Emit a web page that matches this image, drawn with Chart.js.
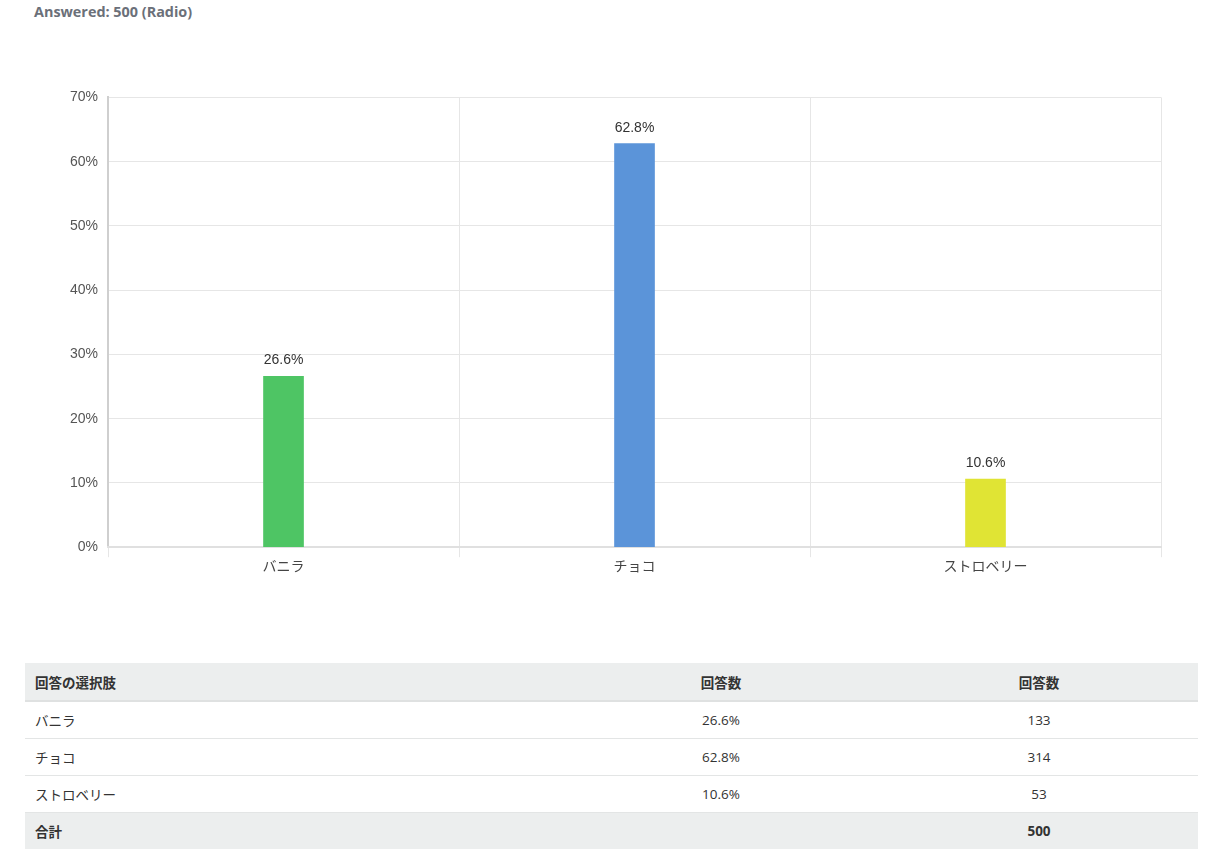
<!DOCTYPE html>
<html><head><meta charset="utf-8">
<script src="https://cdn.jsdelivr.net/npm/chart.js@4.4.1/dist/chart.umd.min.js"></script>
<style>
body{margin:0;background:#fff;font-family:"Noto Sans CJK JP","Noto Sans",sans-serif;}
#hdr{position:absolute;left:34px;top:2px;font:bold 14.4px "Open Sans","Noto Sans CJK JP",sans-serif;color:#6b7079;}
#wrap{position:absolute;left:40px;top:79px;width:1140px;height:495px;}
table{position:absolute;left:25px;top:663px;width:1173px;border-collapse:collapse;font-size:13.5px;color:#333;}
td,th{height:37px;padding:0 10px;border-bottom:1px solid #e3e5e5;box-sizing:border-box;}
th{background:#eceeee;font-weight:bold;border-bottom:2px solid #dfe1e1;height:38px;}
tr.tot td{background:#eceeee;font-weight:bold;border-bottom:none;height:37px;}
.c2{text-align:center;width:318px;}
.c3{text-align:center;width:318px;}
td.c1,th.c1{text-align:left;}
.num{font-family:"Open Sans","Noto Sans",sans-serif;}
</style></head><body>
<div id="hdr">Answered: 500 (Radio)</div>
<div id="wrap"><canvas id="c"></canvas></div>
<table id="t"></table>
<script>
const categories = ["バニラ", "チョコ", "ストロベリー"];
const percentValues = [26.6, 62.8, 10.6];
const counts = [133, 314, 53];
const total = 500;
const barColors = ["rgba(78,197,100,1)", "rgba(91,148,217,1)", "rgba(224,228,52,1)"];
const yTicks = [0,10,20,30,40,50,60,70];

const labelPlugin = {
  id: 'vlabels',
  afterDatasetsDraw(chart){
    const ctx = chart.ctx;
    const meta = chart.getDatasetMeta(0);
    ctx.save();
    ctx.font = '14px "Liberation Sans", Arial, sans-serif';
    ctx.fillStyle = '#333';
    ctx.textAlign = 'center';
    ctx.textBaseline = 'bottom';
    meta.data.forEach((bar,i)=>{
      ctx.fillText(percentValues[i].toFixed(1)+'%', bar.x, bar.y-9);
    });
    ctx.restore();
  }
};

new Chart(document.getElementById('c'), {
  type: 'bar',
  data: { labels: categories, datasets: [{ data: percentValues, backgroundColor: barColors, barThickness: 40 }] },
  options: {
    responsive: true, maintainAspectRatio: false, animation: false,
    layout: { padding: { top: 8, right: 19, left: 20, bottom: 0 } },
    plugins: { legend: { display: false }, tooltip: { enabled: false } },
    scales: {
      y: {
        min: 0, max: 70,
        afterBuildTicks(axis){ axis.ticks = yTicks.map(v=>({value:v})); },
        ticks: { callback: v => v + '%', color: '#555', font: { family: '"Liberation Sans", Arial, sans-serif', size: 14 }, padding: 10 },
        grid: { color: '#e6e6e6', drawTicks: false },
        border: { color: '#cfcfcf', width: 2 }
      },
      x: {
        ticks: { color: '#444', font: { family: '"Noto Sans CJK JP", sans-serif', size: 14 }, padding: 0 },
        grid: { color: '#e6e6e6', tickLength: 10, offset: true },
        border: { color: '#e0e0e0', width: 2 }
      }
    }
  },
  plugins: [labelPlugin]
});

const t = document.getElementById('t');
let html = '<tr><th class="c1">回答の選択肢</th><th class="c2">回答数</th><th class="c3">回答数</th></tr>';
categories.forEach((c,i)=>{
  html += `<tr><td class="c1">${c}</td><td class="c2 num">${percentValues[i].toFixed(1)}%</td><td class="c3 num">${counts[i]}</td></tr>`;
});
html += `<tr class="tot"><td class="c1">合計</td><td class="c2"></td><td class="c3 num">${total}</td></tr>`;
t.innerHTML = html;
</script>
</body></html>
